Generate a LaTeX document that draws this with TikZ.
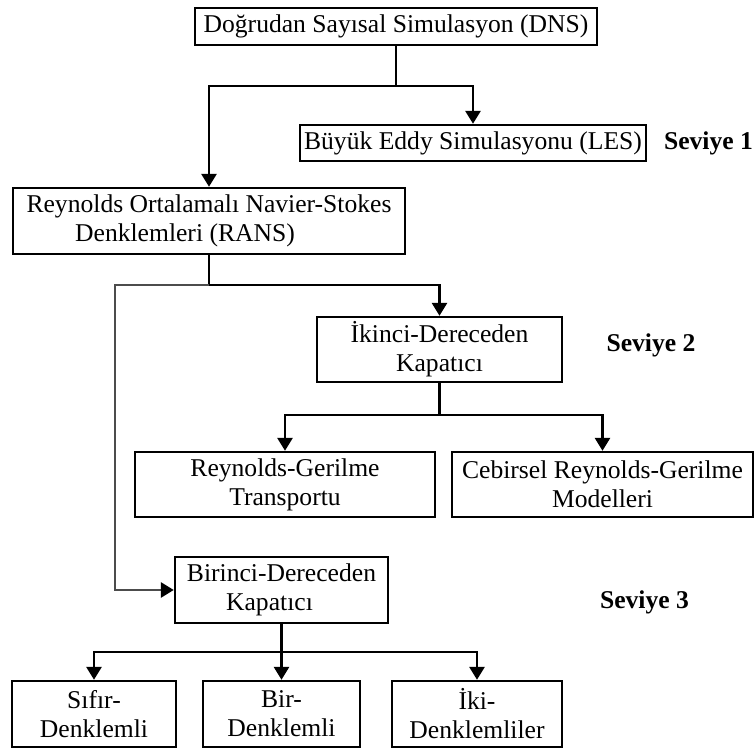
\documentclass[tikz,border=0pt]{standalone}
\usepackage{fontspec}
\setmainfont{Liberation Serif}
\usetikzlibrary{arrows.meta}
\begin{document}
\begin{tikzpicture}[x=0.5pt,y=-0.5pt,
 box/.style={draw, line width=1.2pt, inner sep=0pt, align=center, font=\fontsize{12.8}{14.5}\selectfont},
 lbl/.style={font=\fontsize{12.8}{14.5}\selectfont\bfseries},
 conn/.style={line width=1.45pt},
 arr/.style={conn, -{Triangle[width=7.5pt,length=6.5pt]}},
 graylink/.style={conn, draw=black!70, -{Triangle[width=7.5pt,length=6.5pt,color=black]}},
]
\useasboundingbox (0,0) rectangle (756,749);

\node[box, minimum width=201pt, minimum height=18.5pt] (dns) at (396,26.5) {Doğrudan Sayısal Simulasyon (DNS)};
\node[box, minimum width=173pt, minimum height=18pt] (les) at (473,143) {Büyük Eddy Simulasyonu (LES)};
\node[lbl] (s1) at (708.5,143) {Seviye 1};
\node[box, minimum width=196pt, minimum height=33pt] (rans) at (209,221) {Reynolds Ortalamalı Navier-Stokes\\Denklemleri (RANS)\hspace*{24pt}};
\node[box, minimum width=122.5pt, minimum height=32.5pt] (ik) at (439.5,349.5) {İkinci-Dereceden\\Kapatıcı};
\node[lbl] (s2) at (651,345) {Seviye 2};
\node[box, minimum width=150pt, minimum height=32.5pt] (rgt) at (285,484.5) {Reynolds-Gerilme\\Transportu};
\node[box, minimum width=150.5pt, minimum height=32.5pt] (ceb) at (602.5,484.5) {Cebirsel Reynolds-Gerilme\\Modelleri};
\node[box, minimum width=106.5pt, minimum height=33pt] (bir) at (281.5,590) {Birinci-Dereceden\\Kapatıcı\hspace*{12pt}};
\node[lbl] (s3) at (644.5,602) {Seviye 3};
\node[box, minimum width=82pt, minimum height=33pt] (sif) at (94,714) {Sıfır-\\Denklemli};
\node[box, minimum width=78.5pt, minimum height=33pt] (bire) at (281.5,714) {Bir-\\Denklemli};
\node[box, minimum width=85pt, minimum height=33pt] (iki) at (477,714) {İki-\\Denklemliler};

\coordinate (j1) at (396,86);
\coordinate (j2) at (209,285);
\coordinate (c1) at (115,285);
\coordinate (j3) at (439.5,415);
\coordinate (j4) at (281.5,652);

\draw[conn] (dns.south) -- (j1);
\draw[arr] (j1) -| (rans.north);
\draw[arr] (j1) -| (les.north);

\draw[conn] (rans.south) -- (j2);
\draw[arr] (j2) -| (ik.north);
\draw[graylink] (j2) -- (c1) |- (bir.west);

\draw[conn] (ik.south) -- (j3);
\draw[arr] (j3) -| (rgt.north);
\draw[arr] (j3) -| (ceb.north);

\draw[conn] (bir.south) -- (j4);
\draw[arr] (j4) -| (sif.north);
\draw[arr] (j4) -- (bire.north);
\draw[arr] (j4) -| (iki.north);
\end{tikzpicture}
\end{document}
